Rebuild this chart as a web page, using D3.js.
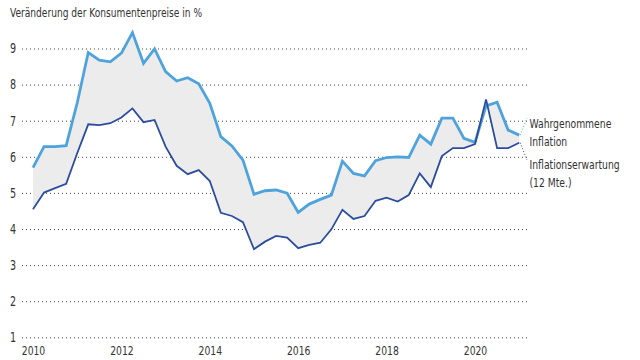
<!DOCTYPE html>
<html>
<head>
<meta charset="utf-8">
<script src="https://cdn.jsdelivr.net/npm/d3@7"></script>
<style>
  body { margin: 0; background: #fff; }
  svg text { font-family: "DejaVu Sans Condensed", "Liberation Sans Narrow", sans-serif; fill: #333; }
</style>
</head>
<body>
<svg width="640" height="360"></svg>
<script>
  // quarterly values, 2010 Q1 .. 2021 Q1
  const startYear = 2010;
  const perceived = [
    5.70, 6.28, 6.28, 6.31,
    7.49, 8.89, 8.68, 8.63,
    8.87, 9.44, 8.59, 8.99,
    8.36, 8.10, 8.19, 8.02,
    7.48, 6.56, 6.30, 5.91,
    4.96, 5.06, 5.08, 4.99,
    4.46, 4.69, 4.82, 4.94,
    5.88, 5.54, 5.47, 5.89,
    5.98, 6.00, 5.98, 6.60,
    6.35, 7.07, 7.07, 6.51,
    6.40, 7.41, 7.51, 6.74,
    6.60
  ];
  const expected = [
    4.55, 5.01, 5.13, 5.25,
    6.10, 6.90, 6.88, 6.93,
    7.09, 7.34, 6.96, 7.02,
    6.28, 5.75, 5.52, 5.63,
    5.33, 4.45, 4.36, 4.19,
    3.44, 3.65, 3.81, 3.76,
    3.47, 3.56, 3.62, 3.99,
    4.53, 4.28, 4.36, 4.78,
    4.87, 4.76, 4.94, 5.54,
    5.16, 6.02, 6.24, 6.24,
    6.35, 7.59, 6.24, 6.24,
    6.39
  ];
  const yTicks = [1, 2, 3, 4, 5, 6, 7, 8, 9];
  const xTicks = [2010, 2012, 2014, 2016, 2018, 2020];
  const title = 'Veränderung der Konsumentenpreise in %';
  const labelPerceived = ['Wahrgenommene', 'Inflation'];
  const labelExpected = ['Inflationserwartung', '(12 Mte.)'];

  const data = perceived.map((p, i) => ({
    t: startYear + i / 4,
    p: p,
    e: expected[i]
  }));

  const svg = d3.select('svg');
  const colLight = '#4fa3dc';
  const colDark = '#2c4d9e';
  const squeeze = 0.79; // no condensed face like the original, so narrow the glyphs

  // squeeze text horizontally around its anchor point
  const condense = (sel, k) => {
    sel.each(function () {
      const t = d3.select(this);
      const x = +t.attr('x') || 0;
      const y = +t.attr('y') || 0;
      t.attr('x', 0).attr('y', 0)
        .attr('transform', `translate(${x},${y}) scale(${k},1)`);
    });
  };

  const xScale = d3.scaleLinear().domain([2010, 2021]).range([33, 519.2]);
  const yScale = d3.scaleLinear().domain([1, 9]).range([337.3, 48.5]);

  // title
  svg.append('text')
    .attr('x', 10).attr('y', 17)
    .attr('font-size', 12.8)
    .text(title)
    .call(condense, squeeze);

  // gridlines + y labels
  const yAxis = d3.axisLeft(yScale)
    .tickValues(yTicks)
    .tickSize(-(527 - 22))
    .tickPadding(6)
    .tickFormat(d3.format('d'));
  const yAxisG = svg.append('g')
    .attr('transform', 'translate(22,0)')
    .call(yAxis);
  yAxisG.select('.domain').remove();
  yAxisG.selectAll('line')
    .attr('stroke', '#444')
    .attr('stroke-width', 1)
    .attr('stroke-dasharray', '1,3');
  yAxisG.selectAll('text')
    .attr('font-size', 13.5)
    .attr('font-family', null)
    .attr('fill', '#333')
    .call(condense, squeeze);

  // x labels
  const xAxis = d3.axisBottom(xScale)
    .tickValues(xTicks)
    .tickSize(0)
    .tickPadding(0)
    .tickFormat(d3.format('d'));
  const xAxisG = svg.append('g')
    .attr('transform', 'translate(0,346)')
    .call(xAxis);
  xAxisG.select('.domain').remove();
  xAxisG.selectAll('text')
    .attr('font-size', 13)
    .attr('font-family', null)
    .attr('fill', '#333')
    .call(condense, squeeze);

  // band between the series
  const area = d3.area()
    .x(d => xScale(d.t))
    .y0(d => yScale(d.e))
    .y1(d => yScale(d.p));
  svg.append('path')
    .datum(data)
    .attr('fill', '#ececec')
    .attr('d', area);

  const lineP = d3.line().x(d => xScale(d.t)).y(d => yScale(d.p));
  const lineE = d3.line().x(d => xScale(d.t)).y(d => yScale(d.e));

  svg.append('path')
    .datum(data)
    .attr('fill', 'none')
    .attr('stroke', colLight)
    .attr('stroke-width', 2.8)
    .attr('d', lineP);

  svg.append('path')
    .datum(data)
    .attr('fill', 'none')
    .attr('stroke', colDark)
    .attr('stroke-width', 1.8)
    .attr('d', lineE);

  // labels with dotted leaders
  const last = data[data.length - 1];
  const lx = 529.5;

  svg.append('line')
    .attr('x1', xScale(last.t) + 1).attr('y1', yScale(last.p))
    .attr('x2', 527).attr('y2', 118)
    .attr('stroke', colLight).attr('stroke-width', 1)
    .attr('stroke-dasharray', '1,2');
  svg.append('line')
    .attr('x1', xScale(last.t) + 1).attr('y1', yScale(last.e))
    .attr('x2', 527).attr('y2', 160)
    .attr('stroke', colDark).attr('stroke-width', 1)
    .attr('stroke-dasharray', '1,2');

  svg.append('g').selectAll('text')
    .data(labelPerceived.concat(labelExpected))
    .enter().append('text')
    .attr('x', lx)
    .attr('y', (d, i) => [127.5, 145.5, 169, 186.5][i])
    .attr('font-size', 13)
    .text(d => d)
    .call(condense, squeeze);
</script>
</body>
</html>
